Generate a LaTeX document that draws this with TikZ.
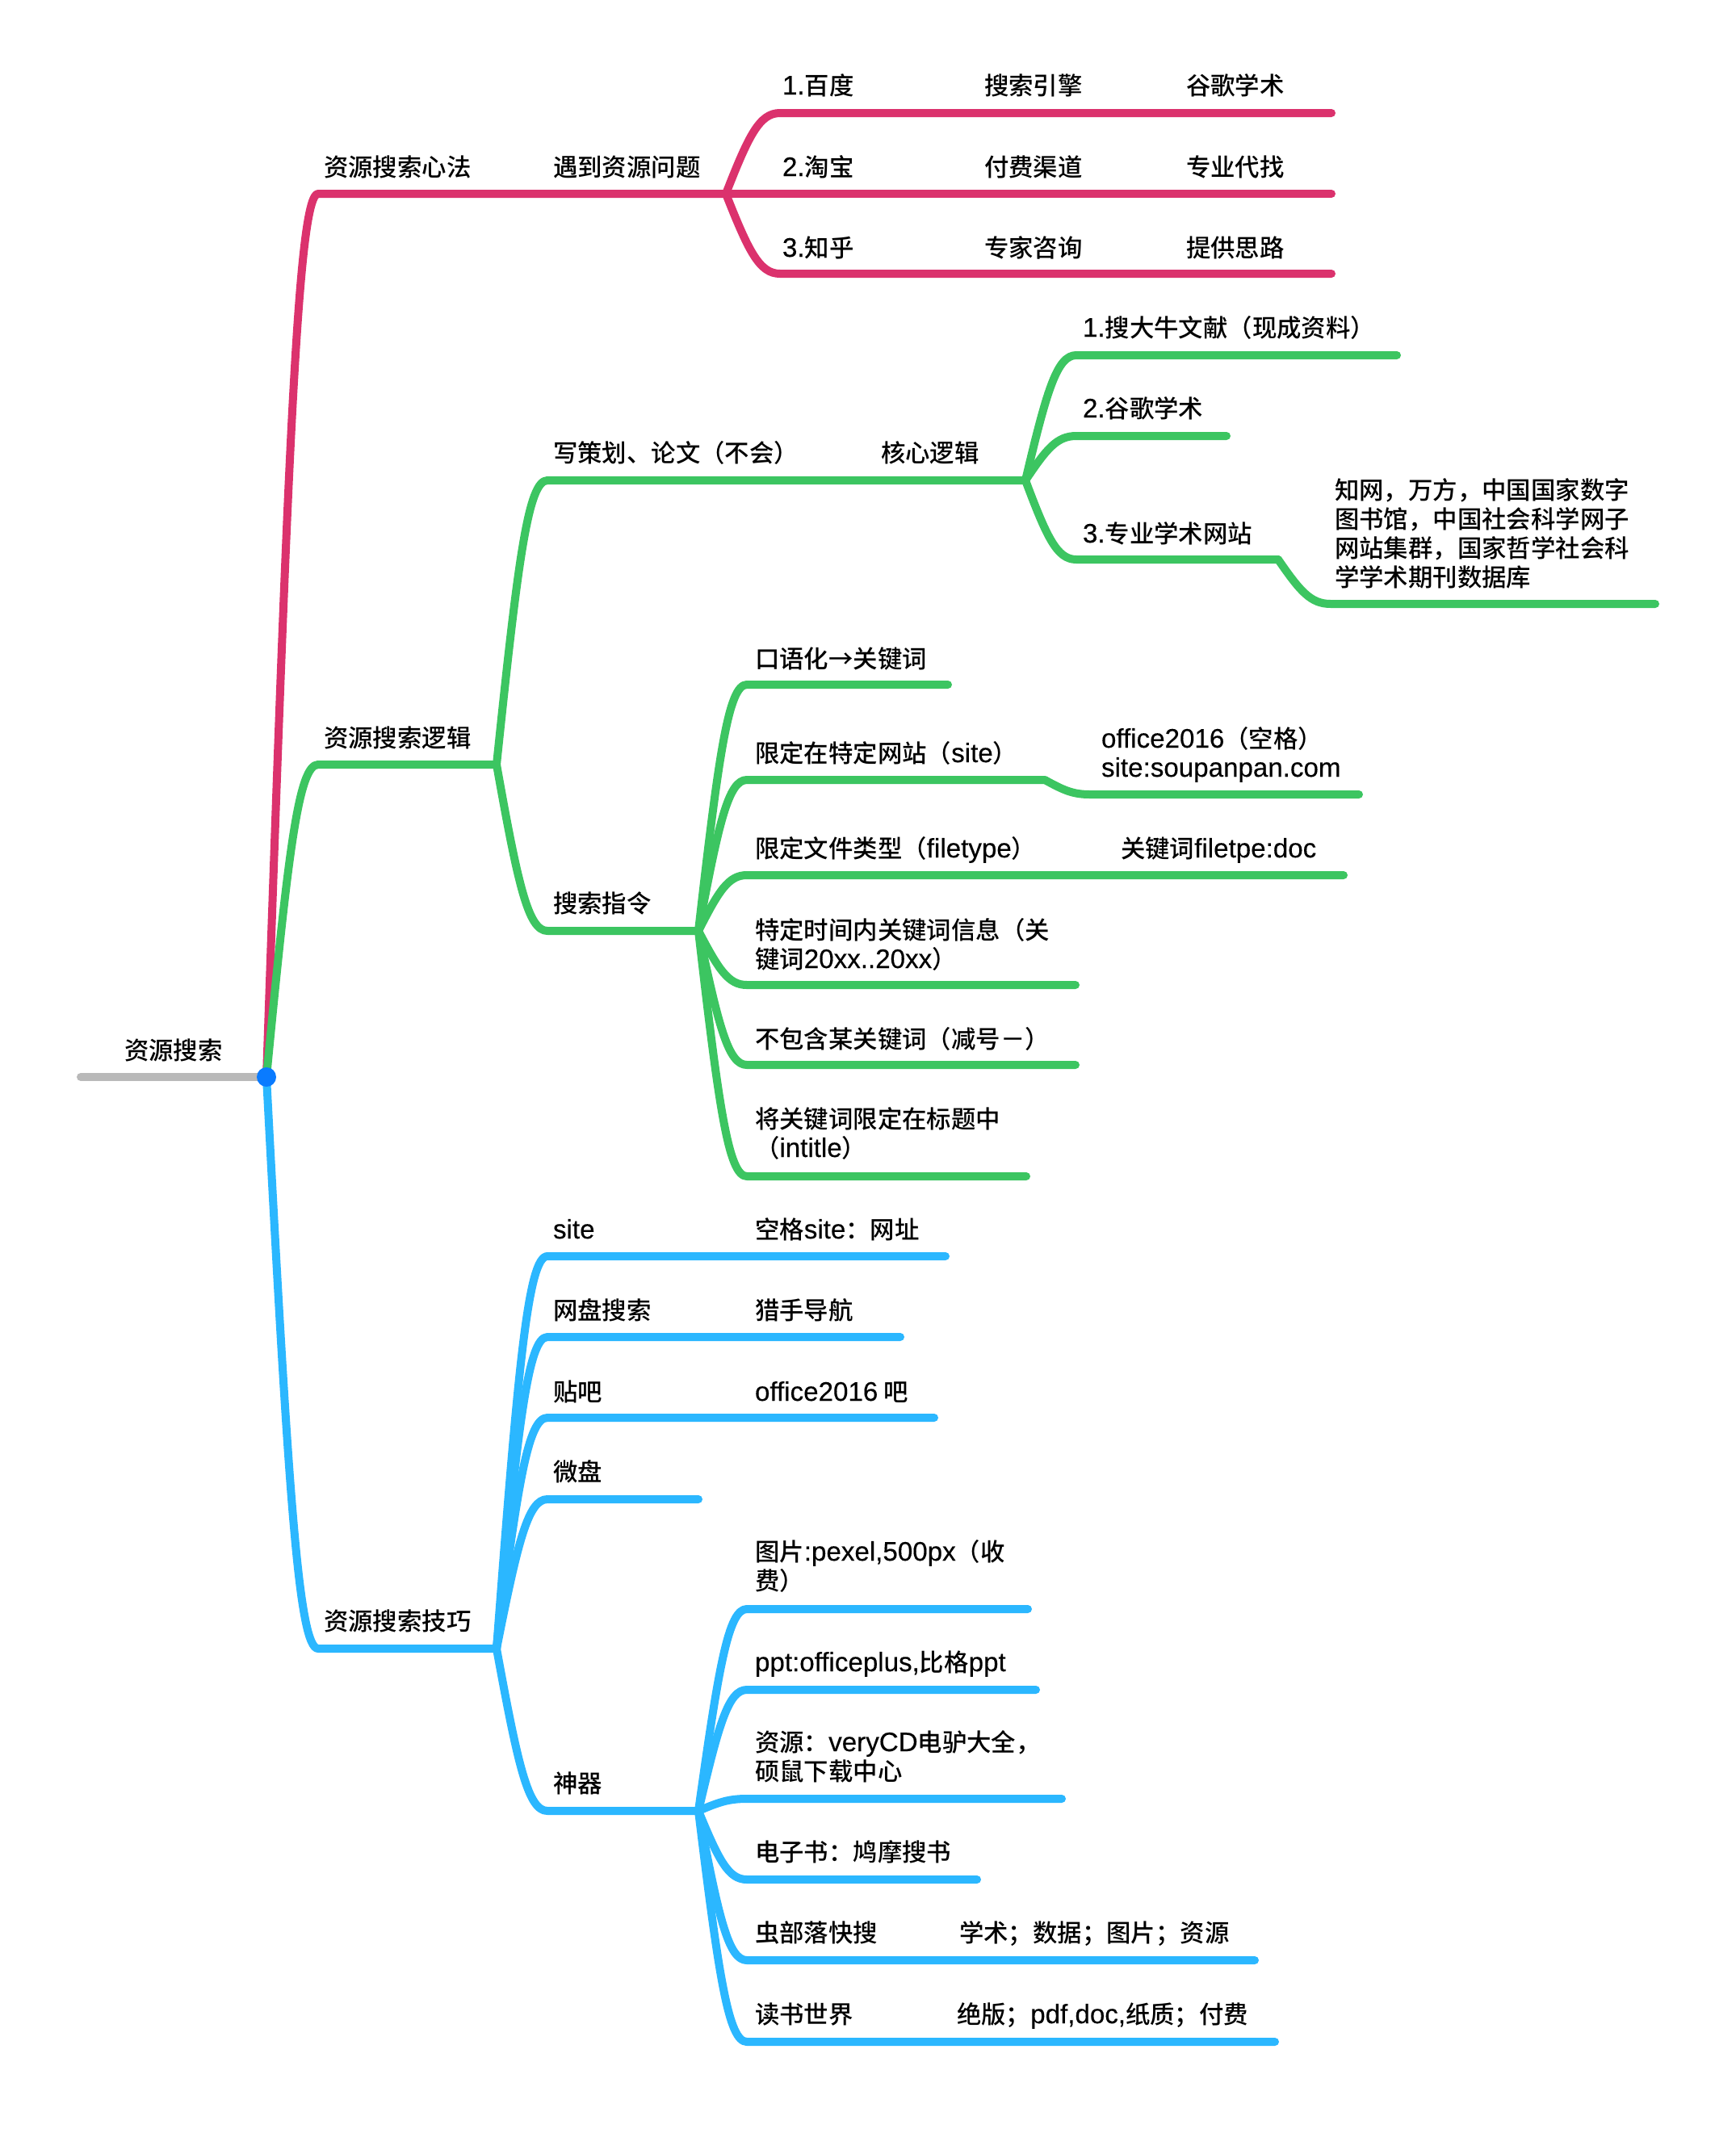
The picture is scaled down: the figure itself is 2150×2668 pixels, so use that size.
\documentclass[tikz,border=0pt]{standalone}
\usepackage{fontspec}
\usetikzlibrary{calc}
\setmainfont{Noto Sans CJK SC Medium}
\newfontfamily\latn[Scale=1.09,FakeBold=0.25]{Liberation Sans}
\newcommand{\lt}[1]{{\latn #1}}
\definecolor{cpink}{HTML}{DB326D}
\definecolor{cgreen}{HTML}{3CC561}
\definecolor{cblue}{HTML}{2BB7FF}
\definecolor{cgray}{HTML}{B9B9B9}
\definecolor{cdot}{HTML}{0A7BFF}
\tikzset{
  lbl/.style={anchor=base west,inner sep=0pt,outer sep=0pt,align=left,text=black,font=\fontsize{15.2}{18}\selectfont},
  pinkln/.style={draw=cpink,line width=5pt,line cap=round,line join=round},
  greenln/.style={draw=cgreen,line width=5pt,line cap=round,line join=round},
  blueln/.style={draw=cblue,line width=5pt,line cap=round,line join=round},
  rootln/.style={draw=cgray,line width=5pt,line cap=round},
  rootdot/.style={circle,fill=cdot,inner sep=0pt,minimum size=12pt}
}
% style, from, name, x, y, xend
\newcommand{\brn}[6]{%
  \coordinate (#3) at (#4,#5);
  \coordinate (#3e) at (#6,#5);
  \draw[#1] let \p1=(#2),\p2=(#3) in (#2)
    .. controls ({\x1+.42*(\x2-\x1)},{\y1+.72*(\y2-\y1)}) and ({\x1+.62*(\x2-\x1)},{\y2}) .. (#3) -- (#3e);
}
\newcommand{\tx}[4]{\node[lbl] (#1) at (#2+1,#3+12) {#4};}
\begin{document}
\begin{tikzpicture}[x=0.5pt,y=-0.5pt]
\useasboundingbox (0,0) rectangle (2150,2668);
\fill[white] (0,0) rectangle (2150,2668);
\coordinate (root) at (330,1334);
\coordinate (rootL) at (100,1334);
\draw[rootln] (rootL) -- (root);
% pink
\brn{pinkln}{root}{a}{394}{240}{899}
\brn{pinkln}{ae}{a1}{966}{140}{1649}
\brn{pinkln}{ae}{a2}{966}{240}{1649}
\brn{pinkln}{ae}{a3}{966}{339}{1649}
% green
\brn{greenln}{root}{b}{394}{947}{615}
\brn{greenln}{be}{c}{678}{595}{1270}
\brn{greenln}{ce}{c1}{1333}{440}{1730}
\brn{greenln}{ce}{c2}{1333}{540}{1519}
\brn{greenln}{ce}{c3}{1333}{693}{1583}
\brn{greenln}{c3e}{c4}{1648}{748}{2050}
\brn{greenln}{be}{d}{678}{1153}{865}
\brn{greenln}{de}{d1}{925}{848}{1174}
\brn{greenln}{de}{d2}{925}{966}{1294}
\brn{greenln}{d2e}{d2b}{1350}{984}{1683}
\brn{greenln}{de}{d3}{925}{1084}{1664}
\brn{greenln}{de}{d4}{925}{1220}{1332}
\brn{greenln}{de}{d5}{925}{1319}{1332}
\brn{greenln}{de}{d6}{925}{1457}{1271}
% blue
\brn{blueln}{root}{e}{394}{2042}{615}
\brn{blueln}{ee}{e1}{678}{1556}{1171}
\brn{blueln}{ee}{e2}{678}{1656}{1115}
\brn{blueln}{ee}{e3}{678}{1756}{1157}
\brn{blueln}{ee}{e4}{678}{1857}{865}
\brn{blueln}{ee}{f}{678}{2243}{865}
\brn{blueln}{fe}{f1}{925}{1993}{1273}
\brn{blueln}{fe}{f2}{925}{2093}{1283}
\brn{blueln}{fe}{f3}{925}{2228}{1315}
\brn{blueln}{fe}{f4}{925}{2328}{1210}
\brn{blueln}{fe}{f5}{925}{2428}{1554}
\brn{blueln}{fe}{f6}{925}{2529}{1579}
\node[rootdot] (dot) at (root) {};
% labels
\tx{t0}{153}{1300}{资源搜索}
\tx{ta}{400}{206}{资源搜索心法}
\tx{ta0}{684}{206}{遇到资源问题}
\tx{ta1}{968}{105}{\lt{1.}百度}
\tx{ta1b}{1218}{105}{搜索引擎}
\tx{ta1c}{1468}{105}{谷歌学术}
\tx{ta2}{968}{206}{\lt{2.}淘宝}
\tx{ta2b}{1218}{206}{付费渠道}
\tx{ta2c}{1468}{206}{专业代找}
\tx{ta3}{968}{306}{\lt{3.}知乎}
\tx{ta3b}{1218}{306}{专家咨询}
\tx{ta3c}{1468}{306}{提供思路}
\tx{tb}{400}{913}{资源搜索逻辑}
\tx{tc}{684}{560}{写策划、论文（不会）}
\tx{tc0}{1090}{560}{核心逻辑}
\tx{tc1}{1340}{405}{\lt{1.}搜大牛文献（现成资料）}
\tx{tc2}{1340}{505}{\lt{2.}谷歌学术}
\tx{tc3}{1340}{660}{\lt{3.}专业学术网站}
\tx{tc4}{1652}{714}{知网，万方，中国国家数字\\图书馆，中国社会科学网子\\网站集群，国家哲学社会科\\学学术期刊数据库}
\tx{td}{684}{1118}{搜索指令}
\tx{td1}{934}{815}{口语化→关键词}
\tx{td2}{934}{932}{限定在特定网站（\lt{site}）}
\tx{td2b}{1363}{950}{\lt{office2016}（空格）\\\lt{site:soupanpan.com}}
\tx{td3}{934}{1050}{限定文件类型（\lt{filetype}）}
\tx{td3b}{1387}{1050}{关键词\lt{filetpe:doc}}
\tx{td4}{934}{1187}{特定时间内关键词信息（关\\键词\lt{20xx..20xx}）}
\tx{td5}{934}{1286}{不包含某关键词（减号－）}
\tx{td6}{934}{1421}{将关键词限定在标题中\\（\lt{intitle}）}
\tx{te}{400}{2007}{资源搜索技巧}
\tx{te1}{684}{1522}{\lt{site}}
\tx{te1b}{934}{1522}{空格\lt{site}：网址}
\tx{te2}{684}{1622}{网盘搜索}
\tx{te2b}{934}{1622}{猎手导航}
\tx{te3}{684}{1723}{贴吧}
\tx{te3b}{934}{1723}{\lt{office2016} 吧}
\tx{te4}{684}{1822}{微盘}
\tx{tf}{684}{2208}{神器}
\tx{tf1}{934}{1957}{图片\lt{:pexel,500px}（收\\费）}
\tx{tf2}{934}{2058}{\lt{ppt:officeplus,}比格\lt{ppt}}
\tx{tf3}{934}{2193}{资源：\lt{veryCD}电驴大全，\\硕鼠下载中心}
\tx{tf4}{934}{2293}{电子书：鸠摩搜书}
\tx{tf5}{934}{2393}{虫部落快搜}
\tx{tf5b}{1187}{2393}{学术；数据；图片；资源}
\tx{tf6}{934}{2494}{读书世界}
\tx{tf6b}{1184}{2494}{绝版；\lt{pdf,doc,}纸质；付费}
\end{tikzpicture}
\end{document}
